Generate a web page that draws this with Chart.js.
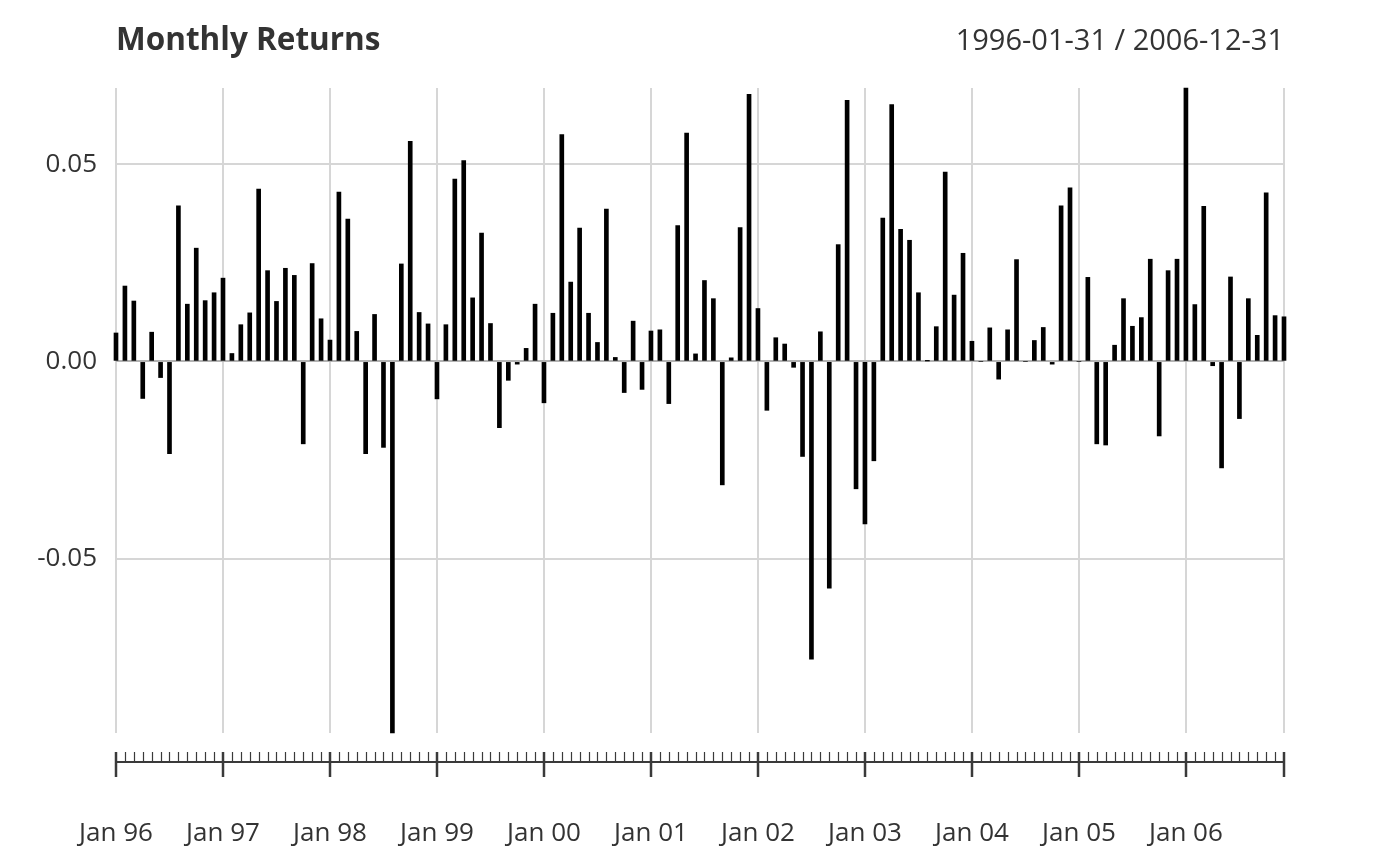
<!DOCTYPE html>
<html>
<head>
<meta charset="utf-8">
<title>Monthly Returns</title>
<script src="https://cdn.jsdelivr.net/npm/chart.js@4/dist/chart.umd.min.js"></script>
<style>
  html, body { margin: 0; padding: 0; background: #fff; }
  canvas { display: block; }
</style>
</head>
<body>
<canvas id="returnsChart" width="1400" height="866"></canvas>
<script>
// monthly returns, one array per year (Jan..Dec)
var r1996 = [0.0072, 0.0191, 0.0153, -0.0094, 0.0074, -0.0041, -0.0234, 0.0394, 0.0145, 0.0287, 0.0154, 0.0174];
var r1997 = [0.0211, 0.0020, 0.0093, 0.0123, 0.0437, 0.0230, 0.0152, 0.0236, 0.0218, -0.0209, 0.0248, 0.0108];
var r1998 = [0.0054, 0.0429, 0.0361, 0.0076, -0.0234, 0.0119, -0.0218, -0.0942, 0.0247, 0.0558, 0.0124, 0.0095];
var r1999 = [-0.0095, 0.0093, 0.0462, 0.0509, 0.0161, 0.0325, 0.0096, -0.0168, -0.0048, -0.0007, 0.0033, 0.0145];
var r2000 = [-0.0105, 0.0122, 0.0575, 0.0201, 0.0338, 0.0122, 0.0048, 0.0386, 0.0010, -0.0079, 0.0102, -0.0071];
var r2001 = [0.0077, 0.0080, -0.0107, 0.0344, 0.0579, 0.0019, 0.0205, 0.0159, -0.0313, 0.0009, 0.0339, 0.0677];
var r2002 = [0.0134, -0.0124, 0.0060, 0.0044, -0.0015, -0.0241, -0.0755, 0.0075, -0.0575, 0.0296, 0.0662, -0.0323];
var r2003 = [-0.0412, -0.0252, 0.0363, 0.0651, 0.0335, 0.0307, 0.0174, 0.0001, 0.0088, 0.0480, 0.0168, 0.0274];
var r2004 = [0.0051, 0.0000, 0.0085, -0.0045, 0.0080, 0.0258, 0.0000, 0.0053, 0.0086, -0.0007, 0.0394, 0.0440];
var r2005 = [0.0000, 0.0213, -0.0209, -0.0212, 0.0041, 0.0159, 0.0089, 0.0111, 0.0259, -0.0189, 0.0230, 0.0259];
var r2006 = [0.0693, 0.0144, 0.0393, -0.0011, -0.0270, 0.0214, -0.0145, 0.0159, 0.0066, 0.0427, 0.0116, 0.0113];

var years = ["96", "97", "98", "99", "00", "01", "02", "03", "04", "05", "06"];
var monthNames = ["Jan", "Feb", "Mar", "Apr", "May", "Jun", "Jul", "Aug", "Sep", "Oct", "Nov", "Dec"];
var yTicks = [-0.05, 0, 0.05];
var titleText = "Monthly Returns";
var rangeText = "1996-01-31 / 2006-12-31";

var returns = [].concat(r1996, r1997, r1998, r1999, r2000, r2001, r2002, r2003, r2004, r2005, r2006);
var labels = [];
years.forEach(function (yy) {
  monthNames.forEach(function (m) { labels.push(m + " " + yy); });
});

var FONT = "'Open Sans', 'DejaVu Sans', sans-serif";
var TEXT = "#333333";
var GRID = "#d6d6d6";

var isMajor = function (i) { return i % 12 === 0 || i === labels.length - 1; };

// title, date range and the detached time axis under the plot
var decor = {
  id: "decor",
  afterDraw: function (chart) {
    var c = chart.ctx, area = chart.chartArea, x = chart.scales.x;
    c.save();
    c.fillStyle = TEXT;
    c.textBaseline = "alphabetic";
    c.font = "bold 31.5px " + FONT;
    c.textAlign = "left";
    c.fillText(titleText, area.left, 50);
    c.font = "29px " + FONT;
    c.textAlign = "right";
    c.fillText(rangeText, area.right, 50);

    var axisY = 762;
    var x0 = x.getPixelForValue(0), x1 = x.getPixelForValue(labels.length - 1);
    c.strokeStyle = "#3a3a3a";
    c.lineWidth = 2;
    c.beginPath();
    c.moveTo(x0 - 1, axisY);
    c.lineTo(x1 + 1, axisY);
    c.stroke();
    for (var i = 0; i < labels.length; i++) {
      var px = Math.round(x.getPixelForValue(i));
      c.beginPath();
      if (isMajor(i)) {
        c.lineWidth = 2.5;
        c.moveTo(px, axisY - 10);
        c.lineTo(px, axisY + 15);
      } else {
        c.lineWidth = 1.2;
        c.moveTo(px + 0.5, axisY - 10);
        c.lineTo(px + 0.5, axisY);
      }
      c.stroke();
    }
    c.restore();
  }
};

var ctx = document.getElementById("returnsChart");
var chart = new Chart(ctx, {
  type: "bar",
  data: {
    labels: labels,
    datasets: [{
      label: "Monthly Returns",
      data: returns,
      backgroundColor: "#000000",
      borderWidth: 0,
      barThickness: 4,
      clip: false
    }]
  },
  options: {
    responsive: false,
    animation: false,
    layout: { padding: { top: 88, right: 116, left: 0, bottom: 0 } },
    plugins: {
      legend: { display: false },
      title: { display: false },
      tooltip: { enabled: false }
    },
    scales: {
      x: {
        offset: false,
        border: { display: false },
        grid: {
          offset: false,
          drawTicks: false,
          lineWidth: 2,
          color: function (c) { return isMajor(c.index) ? GRID : "rgba(0,0,0,0)"; }
        },
        ticks: {
          autoSkip: false,
          maxRotation: 0,
          padding: 85,
          color: TEXT,
          font: { family: FONT, size: 26 },
          callback: function (v, i) { return i % 12 === 0 ? labels[i] : ""; }
        },
        afterFit: function (s) {
          s.height = 133;
          s.paddingLeft = 0;
          s.paddingRight = 0;
        }
      },
      y: {
        min: Math.min.apply(null, returns),
        max: Math.max.apply(null, returns),
        border: { display: false },
        grid: {
          drawTicks: false,
          lineWidth: 2,
          color: function (c) { return c.tick && c.tick.value === 0 ? "#b3b3b3" : GRID; }
        },
        afterBuildTicks: function (s) {
          s.ticks = yTicks.map(function (v) { return { value: v }; });
        },
        ticks: {
          padding: 19,
          color: TEXT,
          font: { family: FONT, size: 26 },
          callback: function (v) { return v.toFixed(2); }
        },
        afterFit: function (s) { s.width = 116; }
      }
    }
  },
  plugins: [decor]
});
</script>
</body>
</html>
